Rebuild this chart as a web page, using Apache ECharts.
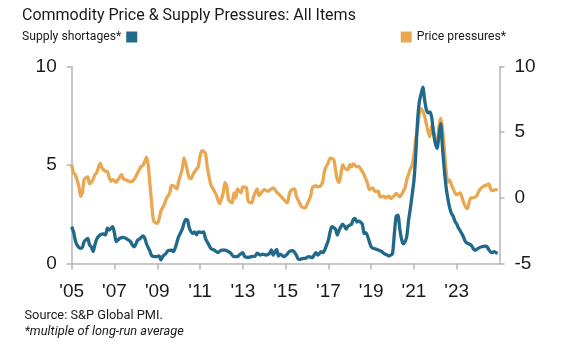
<!DOCTYPE html>
<html>
<head>
<meta charset="utf-8">
<script src="https://cdn.jsdelivr.net/npm/echarts@6/dist/echarts.min.js"></script>
<style>
html,body{margin:0;padding:0;background:#fff;}
#chart{width:566px;height:346px;}
</style>
</head>
<body>
<div id="chart"></div>
<script>
// x values: months since Jan 2005
var xTickLabels = ["'05","'07","'09","'11","'13","'15","'17","'19","'21","'23"];
var leftTicks = [0, 5, 10];
var rightTicks = [-5, 0, 5, 10];

var supplyMonths = [0,1,2,3,5,6,7,9,10,11,12,13,14,16,18,19,20,21,23,24,25,26,27,29,31,33,34,35,37,38,40,41,42,44,45,47,49,50,51,53,54,56,57,58,59,60,62,63,64,65,66,68,69,70,71,73,74,75,77,78,80,82,84,86,88,89,91,93,94,96,97,99,101,103,104,106,107,109,111,112,113,115,116,117,119,121,122,124,126,127,128,130,131,133,135,136,137,138,140,141,143,144,145,146,148,149,150,151,152,153,154,155,157,158,159,160,161,163,164,165,167,168,169,171,173,174,175,177,178,179,180,181,182,183,184,185,186,187,188,189,190,191,192,193,194,195,196,197,198,199,200,201,202,203,204,205,206,207,208,209,210,211,212,213,214,215,216,217,218,219,220,221,222,224,225,226,227,228,230,232,233,234,235,236,237,238,239];
var supplyValues = [1.87,1.61,1.19,0.94,0.77,0.82,1.11,1.28,0.94,0.85,0.6,0.94,1.23,1.45,1.5,1.45,1.79,1.7,1.87,1.53,1.11,1.19,1.28,1.33,1.24,1.11,0.94,0.85,1.19,1.24,1.4,1.28,0.99,0.6,0.38,0.35,0.38,0.18,0.35,0.52,0.65,0.68,0.6,0.77,1.06,1.36,1.74,2.04,2.24,2.2,1.8,1.53,1.61,1.45,1.61,1.57,1.61,1.28,0.94,0.77,0.68,0.55,0.68,0.68,0.6,0.55,0.35,0.35,0.43,0.55,0.35,0.31,0.35,0.38,0.52,0.43,0.48,0.43,0.52,0.69,0.43,0.72,0.38,0.48,0.35,0.48,0.6,0.65,0.43,0.23,0.21,0.26,0.26,0.35,0.3,0.43,0.55,0.43,0.6,0.55,0.94,1.19,1.61,1.87,1.74,1.45,1.68,1.87,2.0,1.9,1.74,1.9,2.0,2.24,2.29,2.1,2.15,2.0,1.53,1.57,1.1,0.85,0.77,0.72,0.65,0.6,0.52,0.43,0.38,0.43,0.5,1.5,2.38,2.46,1.8,1.25,1.0,1.1,1.4,2.2,2.8,3.5,4.2,5.5,7.2,8.2,8.6,8.95,8.3,7.8,7.65,7.7,7.4,6.6,6.1,5.85,6.5,7.1,5.9,4.8,3.9,3.3,2.85,2.55,2.4,2.15,2.0,1.8,1.65,1.5,1.3,1.1,1.03,0.94,0.8,0.68,0.7,0.77,0.85,0.88,0.85,0.7,0.58,0.55,0.6,0.55,0.52];

var priceMonths = [0,1,2,4,5,6,7,9,10,12,13,14,16,17,19,20,22,23,25,26,28,29,31,33,35,37,39,40,42,43,44,45,46,48,49,50,52,53,55,56,57,59,60,62,63,64,65,66,67,68,70,71,72,73,75,76,78,79,81,82,83,85,86,87,88,89,90,91,92,93,95,96,98,99,101,102,104,105,107,108,110,112,113,115,117,119,121,122,123,125,126,128,129,131,132,134,135,137,138,140,141,142,144,145,147,148,149,150,151,152,153,155,156,157,158,160,161,163,164,166,167,169,170,172,173,175,176,178,179,181,182,184,185,187,188,189,190,191,192,193,194,195,196,197,198,199,200,201,202,203,204,205,206,207,208,209,210,211,212,213,214,215,216,218,219,220,221,222,223,224,225,227,229,231,232,234,235,236,238,239];
var priceValues = [2.52,1.9,1.76,0.88,0.12,0.38,1.39,1.59,1.08,1.39,1.77,1.9,2.65,2.27,2.02,2.0,1.26,1.39,1.18,1.39,1.77,1.44,1.34,1.21,1.39,1.9,2.4,2.45,3.1,2.4,0.88,-0.63,-1.77,-1.95,-1.64,-1.01,-0.5,-0.08,0.38,0.93,0.93,0.68,1.26,2.2,3.05,2.6,2.0,1.5,1.45,1.77,2.2,2.35,3.15,3.6,3.4,2.4,1.0,0.76,0.25,-0.13,-0.43,0.38,1.18,0.88,-0.13,-0.3,-0.38,0.38,0.0,0.68,0.38,0.83,0.76,-0.26,-0.38,0.07,0.68,0.17,0.5,0.63,0.5,0.68,0.76,0.43,0.17,-0.13,-0.38,0.25,0.55,0.68,0.12,-0.43,-0.68,-0.76,-0.5,0.12,0.76,0.93,0.83,0.96,1.34,2.14,2.7,3.03,2.9,2.14,1.39,1.18,1.77,2.52,2.27,2.14,2.52,2.35,2.6,2.35,2.4,2.02,1.77,1.08,0.63,0.76,0.5,0.5,0.07,0.12,0,0.12,-0.05,0.17,0.33,0.07,0.25,0.76,1.39,1.8,2.2,2.5,3.3,4.5,5.2,6.4,6.8,6.6,6.2,5.6,5.0,4.67,5.5,5.2,4.3,4.04,5.4,6.06,5.3,3.8,2.2,1.2,1.35,1.0,0.7,0.38,0.25,0.38,0,-0.4,-0.7,-0.83,-0.3,0,0,0.12,0.63,0.88,0.93,1.06,0.68,0.55,0.63,0.58];

var tickVals = xTickLabels.map(function (l, i) { return i * 24; });
function pairs(xs, ys) { return xs.map(function (x, i) { return [x, ys[i]]; }); }

var BLUE = '#21698a', ORANGE = '#e9a751', AXIS = '#b5b5b5', TXT = '#1a1a1a';
var TF = 'Roboto, "Liberation Sans", sans-serif';
var NF = '"Liberation Sans", Arial, sans-serif';

var chart = echarts.init(document.getElementById('chart'), null, {renderer: 'canvas'});
chart.setOption({
  animation: false,
  backgroundColor: '#fff',
  title: [
    {text: 'Commodity Price & Supply Pressures: All Items', left: 22, top: 8, padding: 0,
     textStyle: {fontFamily: TF, fontSize: 16, fontWeight: 'normal', color: TXT}},
    {text: 'Source: S&P Global PMI.', left: 24.5, top: 309, padding: 0,
     textStyle: {fontFamily: TF, fontSize: 12.8, fontWeight: 'normal', color: TXT}},
    {text: '*multiple of long-run average', left: 24.5, top: 325, padding: 0,
     textStyle: {fontFamily: TF, fontSize: 12.8, fontWeight: 'normal', fontStyle: 'italic', color: TXT}}
  ],
  legend: [
    {data: ['Supply shortages*'], left: 22, top: 31, padding: 0, align: 'right', icon: 'rect',
     itemWidth: 11, itemHeight: 11, selectedMode: false,
     textStyle: {fontFamily: TF, fontSize: 12.2, color: TXT}},
    {data: ['Price pressures*'], right: 60, top: 31, padding: 0, align: 'left', icon: 'rect',
     itemWidth: 11, itemHeight: 11, selectedMode: false,
     textStyle: {fontFamily: TF, fontSize: 12.2, color: TXT}}
  ],
  grid: {left: 71.7, right: 66.5, top: 66.5, bottom: 82.5, containLabel: false},
  xAxis: {
    type: 'value', min: 0, max: 240, interval: 24,
    axisLine: {show: true, onZero: false, lineStyle: {color: AXIS, width: 1.5}},
    axisTick: {show: true, length: 6, customValues: tickVals, lineStyle: {color: AXIS, width: 1.5}},
    axisLabel: {customValues: tickVals, margin: 19, fontFamily: NF, fontSize: 19, color: TXT,
      formatter: function (v) { var i = Math.round(v / 24); return xTickLabels[i] || ''; }},
    splitLine: {show: false}
  },
  yAxis: [
    {type: 'value', position: 'left', min: leftTicks[0], max: leftTicks[leftTicks.length - 1], interval: 5,
     axisLine: {show: true, lineStyle: {color: AXIS, width: 1.5}},
     axisTick: {show: true, length: 5, lineStyle: {color: AXIS, width: 1.5}},
     axisLabel: {margin: 15, fontFamily: NF, fontSize: 19, color: TXT},
     splitLine: {show: false}},
    {type: 'value', position: 'right', min: rightTicks[0], max: rightTicks[rightTicks.length - 1], interval: 5,
     axisLine: {show: true, lineStyle: {color: AXIS, width: 1.5}},
     axisTick: {show: true, length: 5, lineStyle: {color: AXIS, width: 1.5}},
     axisLabel: {margin: 15, fontFamily: NF, fontSize: 19, color: TXT},
     splitLine: {show: false}}
  ],
  series: [
    {name: 'Price pressures*', type: 'line', yAxisIndex: 1, data: pairs(priceMonths, priceValues),
     showSymbol: false, symbol: 'none', smooth: 0.25, color: ORANGE,
     lineStyle: {color: ORANGE, width: 3.3, join: 'round'}},
    {name: 'Supply shortages*', type: 'line', yAxisIndex: 0, data: pairs(supplyMonths, supplyValues),
     showSymbol: false, symbol: 'none', smooth: 0.25, color: BLUE,
     lineStyle: {color: BLUE, width: 3.3, join: 'round'}}
  ]
});
</script>
</body>
</html>
